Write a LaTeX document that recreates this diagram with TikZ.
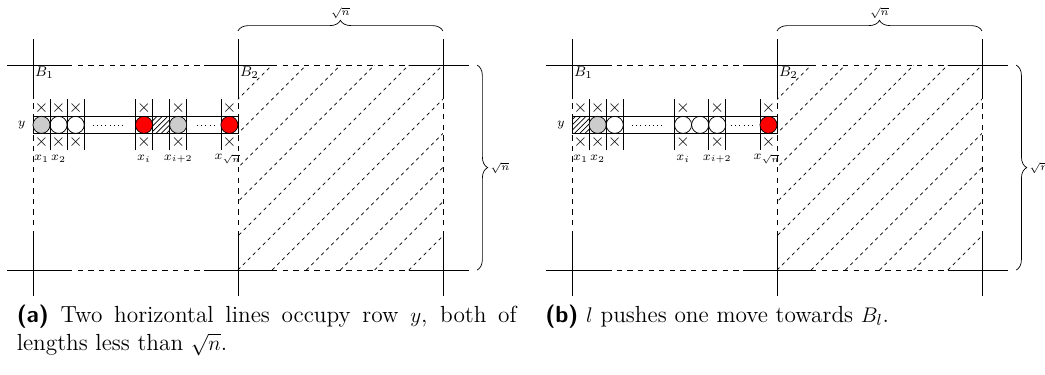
\documentclass[tikz,border=0pt]{standalone}
\usetikzlibrary{patterns,decorations.pathreplacing}
\begin{document}
\begin{tikzpicture}[x=0.34cm,y=0.34cm,
  wall/.style={thin},
  gap/.style={thin,dashed},
  hatchline/.style={thin,dash pattern=on 2pt off 2pt},
  cross/.style={inner sep=0pt,font=\normalsize},
  lab/.style={font=\scriptsize,inner sep=1pt},
  sidelab/.style={font=\fontsize{6}{7}\selectfont,inner sep=0.5pt},
  brc/.style={decorate,decoration={brace,amplitude=6pt}},
  captext/.style={anchor=north west,text width=9.95cm,inner sep=0pt,font=\fontsize{13.2}{16}\selectfont}]
\useasboundingbox (-1.93,-6.09) rectangle (59.25,15.81);

\foreach \s/\p in {0/a,31.56/b}{
\begin{scope}[shift={(\s,0)}]
\foreach \a in {0,12,24}{
  \draw[wall] (\a,-1.5) -- (\a,2);
  \draw[gap] (\a,2) -- (\a,10);
  \draw[wall] (\a,10) -- (\a,13.5);
}
\foreach \b in {0,12}{
  \draw[wall] (-1.5,\b) -- (2,\b);
  \draw[gap] (2,\b) -- (10,\b);
  \draw[wall] (10,\b) -- (14,\b);
  \draw[gap] (14,\b) -- (22,\b);
  \draw[wall] (22,\b) -- (25.5,\b);
}
\begin{scope}
\clip (12,0) rectangle (24,12);
\foreach \c in {2,4,...,22}
  \draw[hatchline] (\c,0) -- ++(12,12);
\end{scope}
\node[font=\footnotesize,anchor=north west,inner sep=1pt] (b1-\p) at (0,12) {$B_1$};
\node[font=\footnotesize,anchor=north west,inner sep=1pt] (b2-\p) at (12,12) {$B_2$};
\draw[brc] (12,14) -- node[sidelab,above=6.5pt] (top-\p) {$\sqrt{n}$} (24,14);
\draw[brc] (26,12) -- node[sidelab,right=7pt] (side-\p) {$\sqrt{n}$} (26,0);

\draw (0,8) rectangle (12,9);
\node[lab,left=3pt] (y-\p) at (0,8.5) {$y$};
\foreach \c in {0,1,2,6,8,11}{
  \node[cross] (up-\p\c) at (\c+0.5,9.5) {$\times$};
  \node[cross] (dn-\p\c) at (\c+0.5,7.5) {$\times$};
}
\node[lab] (x1-\p) at (0.5,6.5) {$x_1$};
\node[lab] (x2-\p) at (1.5,6.5) {$x_2$};
\node[lab] (xi-\p) at (6.5,6.5) {$x_i$};
\node[lab] (xii-\p) at (8.5,6.5) {$x_{i+2}$};
\node[lab] (xn-\p) at (11.4,6.5) {$x_{\sqrt{n}}$};
\draw[dotted] (3.5,8.5) -- (5.3,8.5);
\end{scope}
}

% (a)
\foreach \c in {1,2,3,6,7,8,9,11}
  \draw (\c,7) -- (\c,10);
\filldraw[fill=black!20] (0.5,8.5) circle (0.5);
\draw (1.5,8.5) circle (0.5);
\draw (2.5,8.5) circle (0.5);
\filldraw[fill=red] (6.5,8.5) circle (0.5);
\draw[pattern=north east lines] (7,8) rectangle (8,9);
\filldraw[fill=black!20] (8.5,8.5) circle (0.5);
\draw[dotted] (9.6,8.5) -- (10.6,8.5);
\filldraw[fill=red] (11.5,8.5) circle (0.5);

% (b)
\begin{scope}[shift={(31.56,0)}]
\foreach \c in {1,2,3,6,8,9,11}
  \draw (\c,7) -- (\c,10);
\draw[pattern=north east lines] (0,8) rectangle (1,9);
\filldraw[fill=black!20] (1.5,8.5) circle (0.5);
\draw (2.5,8.5) circle (0.5);
\draw (6.5,8.5) circle (0.5);
\draw (7.5,8.5) circle (0.5);
\draw (8.5,8.5) circle (0.5);
\draw[dotted] (9.3,8.5) -- (10.6,8.5);
\filldraw[fill=red] (11.5,8.5) circle (0.5);
\end{scope}

\node[captext,align=justify] (capa) at (-0.97,-2.0)
  {\textsf{\textbf{(a)}} Two horizontal lines occupy row $y$, both of lengths less than $\sqrt{n}$.};
\node[captext,align=left] (capb) at (29.98,-2.0)
  {\textsf{\textbf{(b)}} $l$ pushes one move towards $B_l$.};
\end{tikzpicture}
\end{document}
